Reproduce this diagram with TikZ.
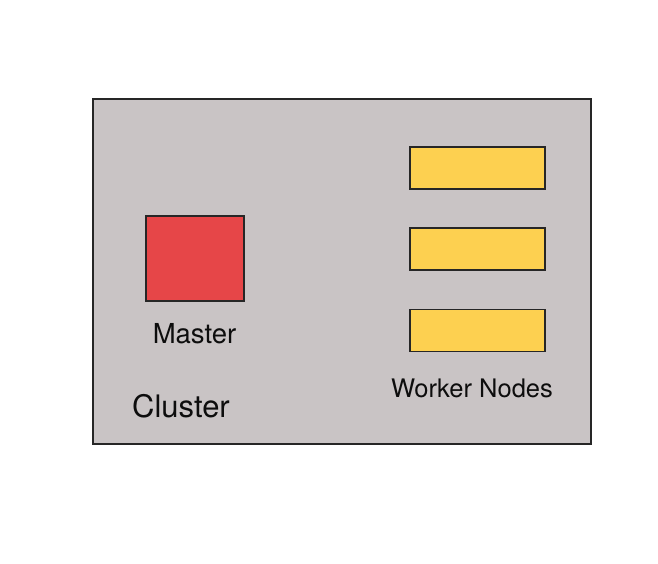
\documentclass[tikz,border=0pt]{standalone}
\usepackage{fontspec}
\setmainfont{TeX Gyre Heros}
\definecolor{clgray}{RGB}{201,196,197}
\definecolor{mred}{RGB}{230,70,72}
\definecolor{wyellow}{RGB}{253,208,80}
\begin{document}
\begin{tikzpicture}[x=1pt,y=-1pt,
  box/.style={draw=black!85,line width=1.4pt,inner sep=0pt,outer sep=0pt},
  lbl/.style={inner sep=0pt,text=black!95}]
\useasboundingbox (0,0) rectangle (658,564);
\fill[white] (0,0) rectangle (658,564);
\node[box,fill=clgray,minimum width=498pt,minimum height=345pt] (cluster) at (342,271.5) {};
\node[box,fill=mred,minimum width=98pt,minimum height=85pt] (master) at (195,258.5) {};
\node[box,fill=wyellow,minimum width=135pt,minimum height=42pt] (w1) at (477.5,168) {};
\node[box,fill=wyellow,minimum width=135pt,minimum height=42pt] (w2) at (477.5,249) {};
\node[box,fill=wyellow,minimum width=135pt,minimum height=42pt] (w3) at (477.5,330.5) {};
\node[lbl,font=\fontsize{27.5}{30}\selectfont] (mlabel) at (194.5,334) {Master};
\node[lbl,font=\fontsize{25.5}{28}\selectfont] (wlabel) at (472,388) {Worker Nodes};
\node[lbl,font=\fontsize{31}{34}\selectfont] (clabel) at (181,406) {Cluster};
\end{tikzpicture}
\end{document}
